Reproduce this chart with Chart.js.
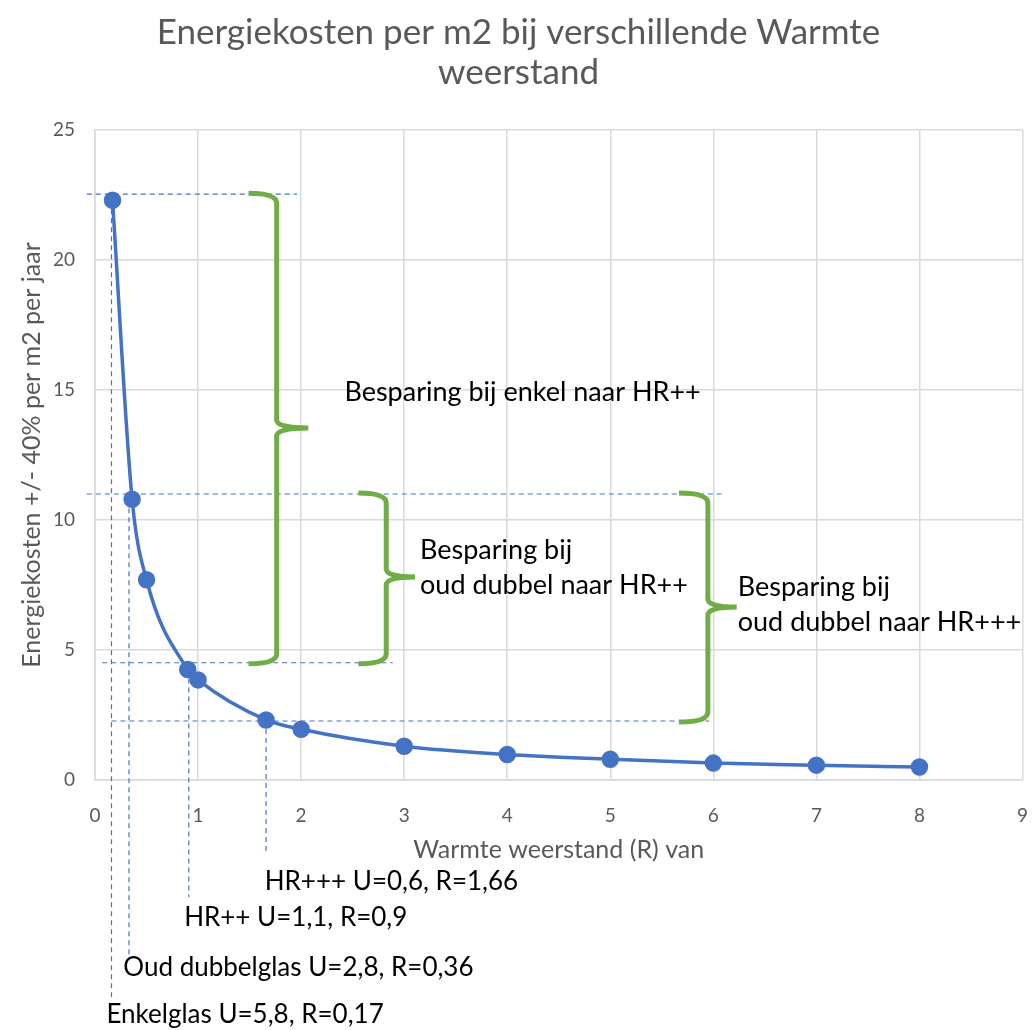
<!DOCTYPE html>
<html>
<head>
<meta charset="utf-8">
<script src="https://cdn.jsdelivr.net/npm/chart.js@4/dist/chart.umd.min.js"></script>
<style>
  html, body { margin: 0; padding: 0; background: #fff; }
  #wrap { width: 1033px; height: 1030px; }
</style>
</head>
<body>
<div id="wrap"><canvas id="warmteChart"></canvas></div>
<script>
const rValues = [0.17, 0.36, 0.5, 0.9, 1.0, 1.66, 2, 3, 4, 5, 6, 7, 8];
const kosten = [22.3, 10.8, 7.7, 4.25, 3.85, 2.31, 1.95, 1.3, 0.98, 0.8, 0.65, 0.57, 0.5];

// stippellijnen: [x1, y1, x2, y2]
const hulpLijnen = [
    [-0.08, 22.53, 1.96, 22.53],
    [-0.08, 11.0, 6.08, 11.0],
    [0.07, 4.51, 2.89, 4.51],
    [0.16, 2.27, 5.96, 2.27],
    [0.16, 22.3, 0.16, -8.35],
    [0.33, 10.8, 0.33, -6.73],
    [0.91, 4.25, 0.91, -4.5],
    [1.66, 2.31, 1.66, -2.81]
];

// accolades: [top, bottom, rug-x, haak-x, punt-x, punt-y]
const accolades = [
    [22.53, 4.51, 1.763, 1.49, 2.07, 13.54],
    [11.0, 4.51, 2.826, 2.556, 3.106, 7.81],
    [11.0, 2.27, 5.947, 5.667, 6.227, 6.65]
];

// teksten in de grafiek: [tekst, x, y]
const teksten = [
    ['Besparing bij enkel naar HR++', 2.42, 14.92],
    ['Besparing bij', 3.154, 8.85],
    ['oud dubbel naar HR++', 3.154, 7.5],
    ['Besparing bij', 6.237, 7.42],
    ['oud dubbel naar HR+++', 6.237, 6.08]
];

// teksten onder de as: [tekst, x, y]
const glasTeksten = [
    ['HR+++ U=0,6, R=1,66', 1.647, -3.92],
    ['HR++ U=1,1, R=0,9', 0.865, -5.31],
    ['Oud dubbelglas U=2,8, R=0,36', 0.275, -7.23],
    ['Enkelglas U=5,8, R=0,17', 0.111, -9.04]
];

const titelRegels = ['Energiekosten per m2 bij verschillende Warmte', 'weerstand'];
const xTitel = 'Warmte weerstand (R) van';
const yTitel = 'Energiekosten +/- 40% per m2 per jaar';

const FONT = 'Lato, "Open Sans", sans-serif';
const BLAUW = '#4472c4';
const GROEN = '#70ad47';
const GRIJS = '#595959';

const guideSets = hulpLijnen.map(function(l) {
    return {
        data: [{ x: l[0], y: l[1] }, { x: l[2], y: l[3] }],
        showLine: true,
        borderColor: BLAUW,
        borderWidth: 1.2,
        borderDash: [5, 4],
        pointRadius: 0,
        clip: false,
        order: 2
    };
});

const annotatiePlugin = {
    id: 'annotaties',
    afterDatasetsDraw: function(chart) {
        const ctx = chart.ctx;
        const xs = chart.scales.x, ys = chart.scales.y;
        ctx.save();
        ctx.strokeStyle = GROEN;
        ctx.lineWidth = 5;
        ctx.lineJoin = 'round';
        accolades.forEach(function(a) {
            const top = ys.getPixelForValue(a[0]);
            const bot = ys.getPixelForValue(a[1]);
            const s = xs.getPixelForValue(a[2]);
            const h = xs.getPixelForValue(a[3]);
            const px = xs.getPixelForValue(a[4]);
            const py = ys.getPixelForValue(a[5]);
            ctx.beginPath();
            ctx.moveTo(h, top - 1);
            ctx.quadraticCurveTo(s, top - 1, s, top + 9);
            ctx.lineTo(s, py - 8);
            ctx.quadraticCurveTo(s, py, px, py);
            ctx.moveTo(px, py);
            ctx.quadraticCurveTo(s, py, s, py + 8);
            ctx.lineTo(s, bot - 9);
            ctx.quadraticCurveTo(s, bot + 1, h, bot + 1);
            ctx.stroke();
        });
        ctx.restore();
    },
    afterDraw: function(chart) {
        const ctx = chart.ctx;
        const xs = chart.scales.x, ys = chart.scales.y;
        const area = chart.chartArea;
        ctx.save();
        ctx.textBaseline = 'middle';

        // titel
        ctx.fillStyle = GRIJS;
        ctx.textAlign = 'center';
        ctx.font = '35px ' + FONT;
        ctx.fillText(titelRegels[0], chart.width / 2 + 2, 33);
        ctx.fillText(titelRegels[1], chart.width / 2 + 2, 73);

        // as-titels
        ctx.font = '25px ' + FONT;
        ctx.fillText(xTitel, (area.left + area.right) / 2, 850);
        ctx.save();
        ctx.translate(32, (area.top + area.bottom) / 2);
        ctx.rotate(-Math.PI / 2);
        ctx.fillText(yTitel, 0, 0);
        ctx.restore();

        // annotaties
        ctx.fillStyle = '#000';
        ctx.textAlign = 'left';
        ctx.font = '27px ' + FONT;
        teksten.forEach(function(t) {
            ctx.fillText(t[0], xs.getPixelForValue(t[1]), ys.getPixelForValue(t[2]));
        });
        ctx.font = '26px ' + FONT;
        glasTeksten.forEach(function(t) {
            ctx.fillText(t[0], xs.getPixelForValue(t[1]), ys.getPixelForValue(t[2]));
        });
        ctx.restore();
    }
};

new Chart(document.getElementById('warmteChart'), {
    type: 'scatter',
    data: {
        datasets: [{
            data: rValues.map(function(r, i) { return { x: r, y: kosten[i] }; }),
            showLine: true,
            borderColor: BLAUW,
            backgroundColor: BLAUW,
            borderWidth: 3.5,
            pointRadius: 7,
            pointHoverRadius: 7,
            cubicInterpolationMode: 'monotone',
            order: 1
        }].concat(guideSets)
    },
    options: {
        responsive: true,
        maintainAspectRatio: false,
        animation: false,
        layout: { padding: { top: 130, right: 6, left: 0, bottom: 0 } },
        plugins: {
            legend: { display: false },
            tooltip: { enabled: false }
        },
        scales: {
            x: {
                type: 'linear',
                min: 0,
                max: 9,
                afterFit: function(s) {
                    s.height = 250;
                    s.paddingLeft = 0;
                    s.paddingRight = 0;
                },
                grid: { color: '#d9d9d9', lineWidth: 1.5, drawTicks: false },
                border: { color: '#d9d9d9', width: 1.5 },
                ticks: {
                    stepSize: 1,
                    padding: 24,
                    color: GRIJS,
                    font: { family: FONT, size: 19 }
                }
            },
            y: {
                min: 0,
                max: 25,
                afterFit: function(s) {
                    s.width = 95;
                    s.paddingTop = 0;
                    s.paddingBottom = 0;
                },
                grid: { color: '#d9d9d9', lineWidth: 1.5, drawTicks: false },
                border: { color: '#d9d9d9', width: 1.5 },
                ticks: {
                    stepSize: 5,
                    padding: 20,
                    color: GRIJS,
                    font: { family: FONT, size: 19 }
                }
            }
        }
    },
    plugins: [annotatiePlugin]
});
</script>
</body>
</html>
